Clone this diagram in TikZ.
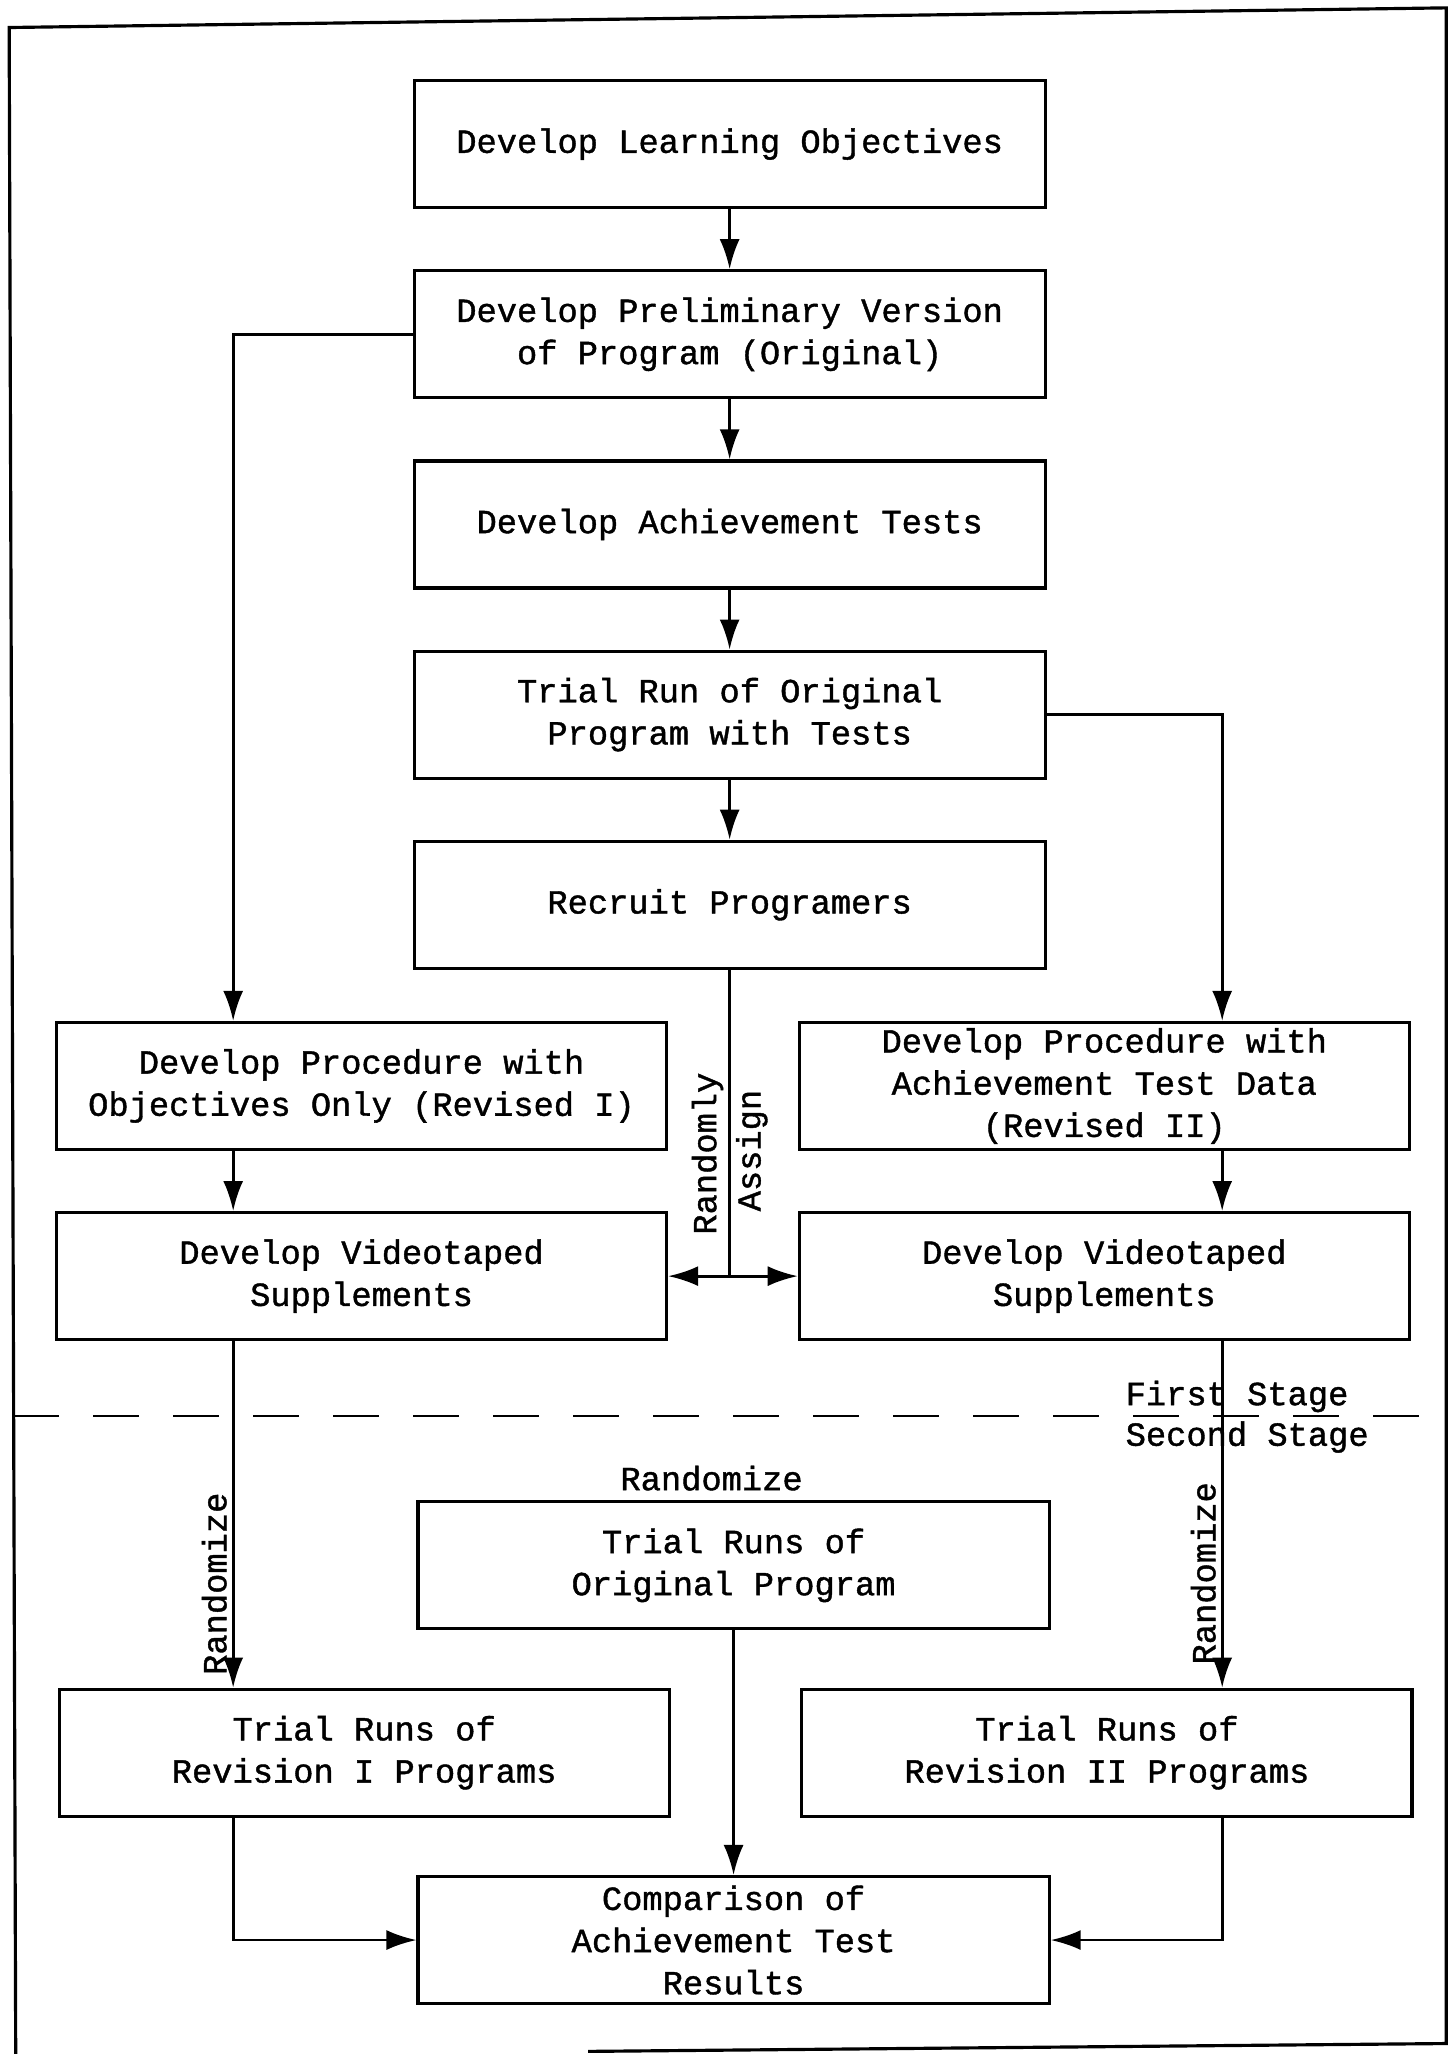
\documentclass[tikz,border=0pt]{standalone}
\usepackage{fontspec}
\setmainfont{Liberation Mono}[FakeBold=1.2]
\usetikzlibrary{positioning,arrows.meta}

\begin{document}
\begin{tikzpicture}[x=0.131mm,y=-0.131mm,
	boxnode/.style={draw,line width=0.9pt,align=center,inner xsep=1mm,inner ysep=0.3mm,minimum height=12.7mm,font=\fontsize{9.6}{12}\selectfont},
	midbox/.style={boxnode,minimum width=63.1mm},
	sidebox/.style={boxnode,minimum width=61mm},
	sidetext/.style={font=\fontsize{9.6}{12}\selectfont,inner sep=0.5mm},
	flow/.style={line width=0.8pt,-{Latex[length=3mm,width=2mm]}},
	flowboth/.style={line width=0.8pt,{Latex[length=3mm,width=2mm]}-{Latex[length=3mm,width=2mm]}}]
	\useasboundingbox (0,0) rectangle (1106,1568);
	\draw[line width=0.9pt] (12,1568) -- (7,21) -- (1104,6) -- (1104,1560) -- (449,1566);

	\node[midbox]											(obj)		at (557,110) {Develop Learning Objectives};
	\node[midbox,node distance=6mm,below=of obj]			(pre)		{Develop Preliminary Version\\of Program (Original)};
	\node[midbox,node distance=6mm,below=of pre]			(ach)		{Develop Achievement Tests};
	\node[midbox,node distance=6mm,below=of ach]			(trial)		{Trial Run of Original\\Program with Tests};
	\node[midbox,node distance=6mm,below=of trial]			(recr)		{Recruit Programers};
	\node[sidebox]											(procI)		at (276,829) {Develop Procedure with\\Objectives Only (Revised I)};
	\node[sidebox,node distance=6mm,below=of procI]			(vidI)		{Develop Videotaped\\Supplements};
	\node[sidebox]											(procII)	at (843,829) {Develop Procedure with\\Achievement Test Data\\(Revised II)};
	\node[sidebox,node distance=6mm,below=of procII]		(vidII)		{Develop Videotaped\\Supplements};
	\node[midbox]											(runO)		at (560,1195) {Trial Runs of\\Original Program};
	\node[sidebox]											(runI)		at (278,1338) {Trial Runs of\\Revision I Programs};
	\node[sidebox]											(runII)		at (845,1338) {Trial Runs of\\Revision II Programs};
	\node[midbox]											(comp)		at (560,1481) {Comparison of\\Achievement Test\\Results};
	\node[sidetext,node distance=0.4mm,above=of runO,xshift=-2.2mm]	(rndO)	{Randomize};
	\node[sidetext,anchor=west]								(first)		at (855,1066) {First Stage};
	\node[sidetext,anchor=west]								(second)	at (855,1097) {Second Stage};
	\coordinate (laneL) at (178,0);
	\coordinate (laneR) at (933,0);

	\draw[line width=0.8pt,dash pattern=on 4.6mm off 3.4mm] (10,1081) -- (1090,1081);

	\draw[flow] (obj) -- (pre);
	\draw[flow] (pre) -- (ach);
	\draw[flow] (ach) -- (trial);
	\draw[flow] (trial) -- (recr);
	\draw[flow] (pre.west) -| (laneL |- procI.north);
	\draw[flow] (trial.east) -| (laneR |- procII.north);
	\draw[flow] (laneL |- procI.south) -- (laneL |- vidI.north);
	\draw[flow] (laneR |- procII.south) -- (laneR |- vidII.north);
	\draw[line width=0.8pt] (recr.south) -- node[sidetext,pos=0.6,rotate=90,anchor=south]{Randomly} node[sidetext,pos=0.59,rotate=90,anchor=north]{Assign} (recr.south |- vidI.east);
	\draw[flowboth] (vidI) -- (vidII);
	\draw[flow] (laneL |- vidI.south) -- node[sidetext,pos=0.7,rotate=90,anchor=south]{Randomize} (laneL |- runI.north);
	\draw[flow] (laneR |- vidII.south) -- node[sidetext,pos=0.67,rotate=90,anchor=south]{Randomize} (laneR |- runII.north);
	\draw[flow] (runO) -- (comp);
	\draw[flow] (laneL |- runI.south) |- (comp.west);
	\draw[flow] (laneR |- runII.south) |- (comp.east);
\end{tikzpicture}
\end{document}
